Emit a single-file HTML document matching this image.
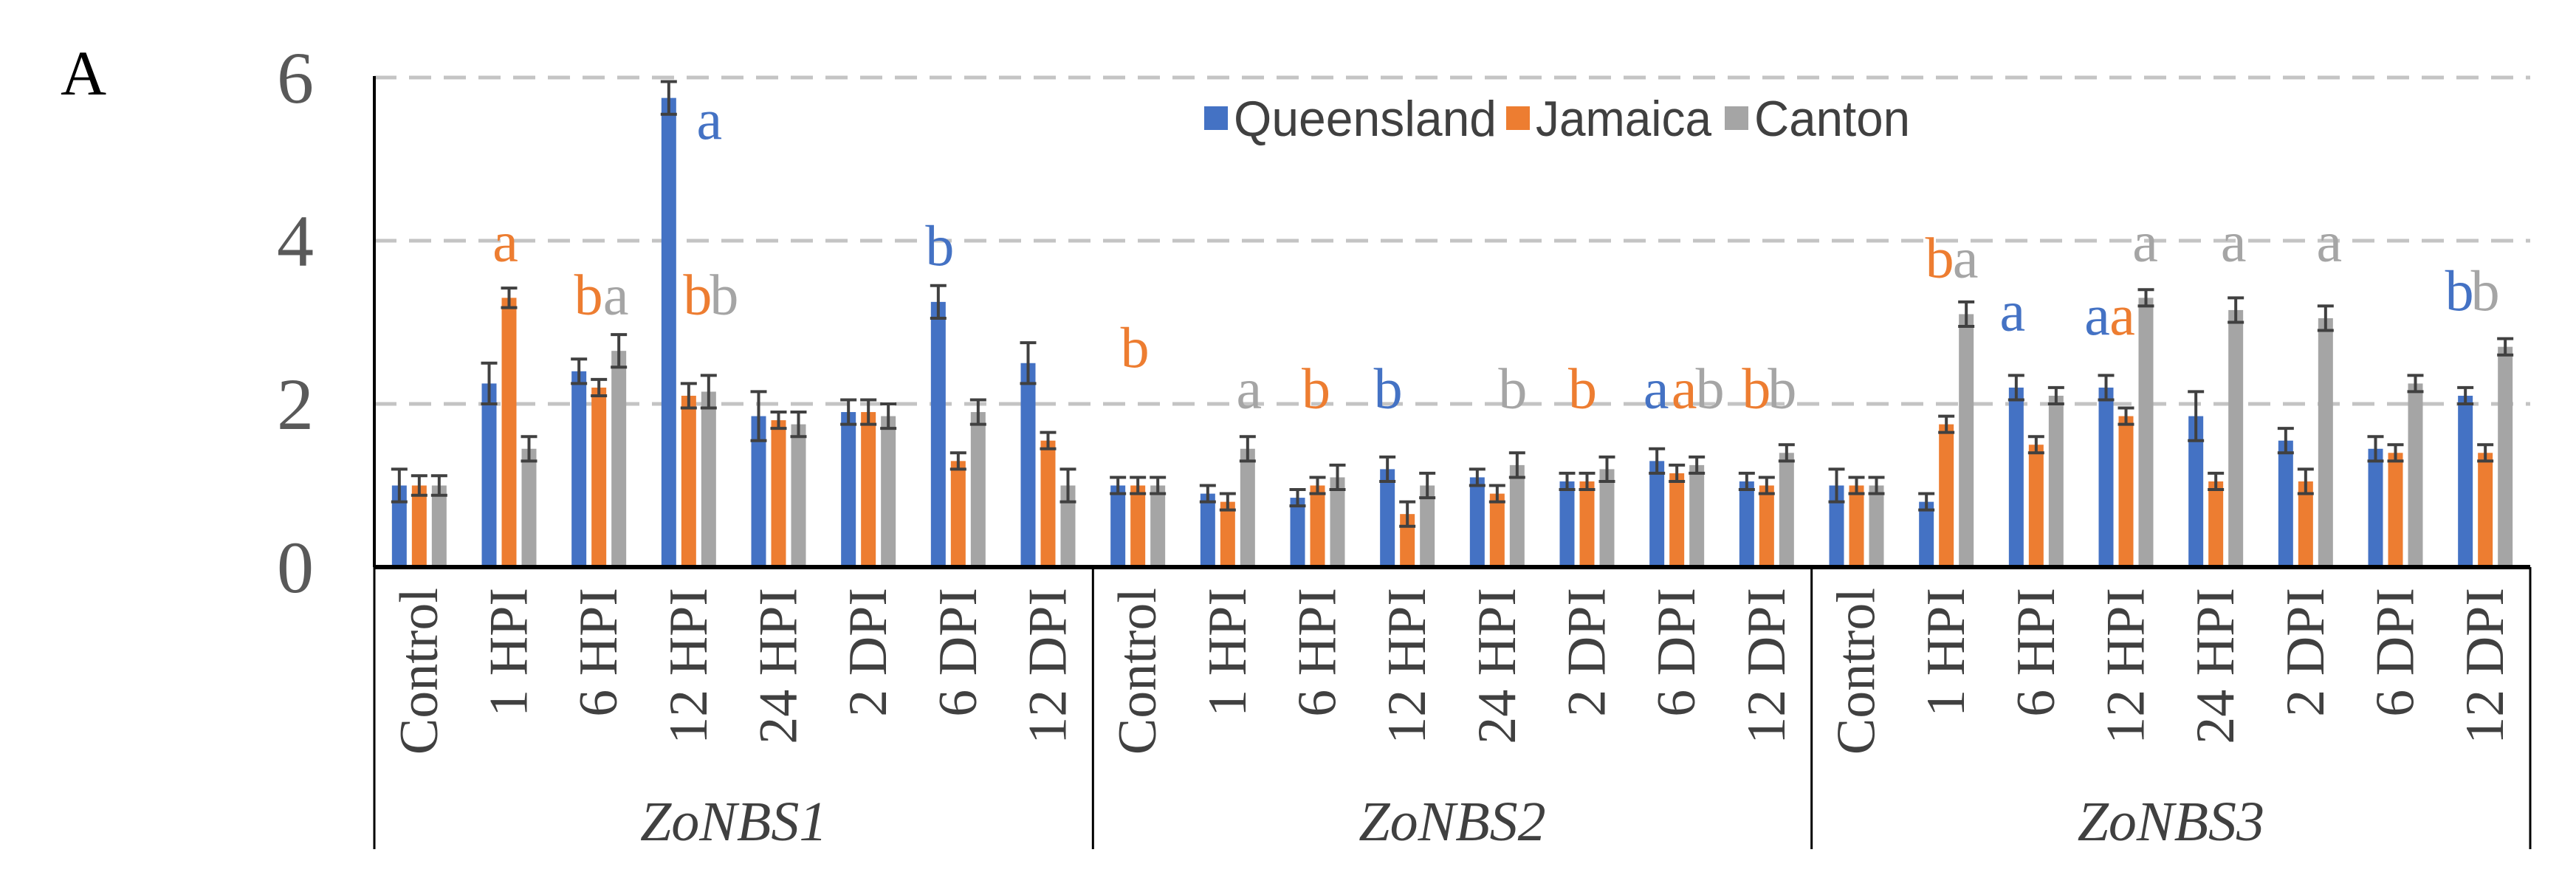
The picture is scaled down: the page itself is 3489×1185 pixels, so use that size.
<!DOCTYPE html>
<html><head><meta charset="utf-8">
<style>
html,body{margin:0;padding:0;background:#fff;}
svg{display:block;}
</style></head>
<body>
<svg id="chart" width="3489" height="1185" viewBox="0 0 3489 1185" xmlns="http://www.w3.org/2000/svg">
<text x="82" y="128" font-family="Liberation Serif, serif" font-size="86" fill="#000">A</text>
<g id="grid"></g>
<g id="bars"></g>
<g id="axes"></g>
<g id="letters"></g>
<g id="legend"></g>
</svg>
<script>
const categories = ["Control","1 HPI","6 HPI","12 HPI","24 HPI","2 DPI","6 DPI","12 DPI","Control","1 HPI","6 HPI","12 HPI","24 HPI","2 DPI","6 DPI","12 DPI","Control","1 HPI","6 HPI","12 HPI","24 HPI","2 DPI","6 DPI","12 DPI"];
const groups = ["ZoNBS1","ZoNBS2","ZoNBS3"];
const seriesNames = ["Queensland","Jamaica","Canton"];
const queensland = [1,2.25,2.4,5.75,1.85,1.9,3.25,2.5, 1,0.9,0.85,1.2,1.1,1.05,1.3,1.05, 1,0.8,2.2,2.2,1.85,1.55,1.45,2.1];
const jamaica    = [1,3.3,2.2,2.1,1.8,1.9,1.3,1.55, 1,0.8,1.0,0.65,0.9,1.05,1.15,1.0, 1,1.75,1.5,1.85,1.05,1.05,1.4,1.4];
const canton     = [1,1.45,2.65,2.15,1.75,1.85,1.9,1.0, 1,1.45,1.1,1.0,1.25,1.2,1.25,1.4, 1,3.1,2.1,3.3,3.15,3.05,2.25,2.7];
const errQ = [0.2,0.25,0.15,0.2,0.3,0.15,0.2,0.25, 0.1,0.1,0.1,0.15,0.1,0.1,0.15,0.1, 0.2,0.1,0.15,0.15,0.3,0.15,0.15,0.1];
const errJ = [0.12,0.12,0.1,0.15,0.1,0.15,0.1,0.1, 0.1,0.1,0.1,0.15,0.1,0.1,0.1,0.1, 0.1,0.1,0.1,0.1,0.1,0.15,0.1,0.1];
const errC = [0.12,0.15,0.2,0.2,0.15,0.15,0.15,0.2, 0.1,0.15,0.15,0.15,0.15,0.15,0.1,0.1, 0.1,0.15,0.1,0.1,0.15,0.15,0.1,0.1];
const yTicks = [0,2,4,6];
// significance letters
const letterCat    = [3,1,2,2,3,3,6,8,9,10,11,12,13,14,14,14,15,15,17,17,18,19,19,19,20,21,23,23];
const letterSeries = [0,1,1,2,1,2,0,1,2,1,0,2,1,0,1,2,1,2,1,2,0,0,1,2,2,2,0,2];
const letterText   = ["a","a","b","a","b","b","b","b","a","b","b","b","b","a","a","b","b","b","b","a","a","a","a","a","a","a","b","b"];
const letterVal    = [5.45,3.95,3.3,3.3,3.3,3.3,3.9,2.65,2.15,2.15,2.15,2.15,2.15,2.15,2.15,2.15,2.15,2.15,3.75,3.75,3.1,3.05,3.05,3.95,3.95,3.95,3.35,3.35];
const letterDx     = [28,-5,-14,23,12,48,-25,-4,29,-2,-26,21,-6,-28,10,45,-14,21,-9,26,-32,-39,-5,26,24,32,-35,0];

const svg = document.getElementById('chart');
const NS = 'http://www.w3.org/2000/svg';
const X0 = 507, X1 = 3427, Y0 = 768, Y6 = 105;
const catW = (X1 - X0) / categories.length;
const yScale = v => Y0 - (Y0 - Y6) * v / 6;
const xCenter = i => X0 + catW * (i + 0.5);
const colors = ["#4472C4","#ED7D31","#A5A5A5"];
const offs = [-27,0,27];
function mk(tag, attrs, parent){const e=document.createElementNS(NS,tag);for(const k in attrs)e.setAttribute(k,attrs[k]);parent.appendChild(e);return e;}

const grid = document.getElementById('grid');
yTicks.forEach(t=>{
  if(t>0){
    const l = mk('line',{x1:X0,x2:X1,y1:yScale(t),y2:yScale(t),stroke:'#C4C4C4','stroke-width':5,'stroke-dasharray':'30 17'},grid);
    
    
  }
  const tx = mk('text',{x:425,y:yScale(t)+34,'text-anchor':'end','font-family':'Liberation Serif, serif','font-size':100,fill:'#595959'},grid);
  tx.textContent = t;
  
  
});

const bars = document.getElementById('bars');
const vals = [queensland,jamaica,canton];
const errs = [errQ,errJ,errC];
categories.forEach((c,i)=>{
  vals.forEach((arr,s)=>{
    const cx = xCenter(i)+offs[s];
    const r = mk('rect',{x:cx-10,y:yScale(arr[i]),width:20,height:Y0-yScale(arr[i]),fill:colors[s]},bars);
    
    
    const e = errs[s][i];
    const g = mk('g',{stroke:'#404040','stroke-width':4},bars);
    
    
    mk('line',{x1:cx,x2:cx,y1:yScale(arr[i]-e),y2:yScale(arr[i]+e)},g);
    mk('line',{x1:cx-11,x2:cx+11,y1:yScale(arr[i]+e),y2:yScale(arr[i]+e)},g);
    mk('line',{x1:cx-11,x2:cx+11,y1:yScale(arr[i]-e),y2:yScale(arr[i]-e)},g);
  });
});

const axes = document.getElementById('axes');
const ya = mk('line',{x1:X0,x2:X0,y1:Y6-2,y2:Y0,stroke:'#000','stroke-width':4},axes);


const xa = mk('line',{x1:X0,x2:X1,y1:Y0,y2:Y0,stroke:'#000','stroke-width':6},axes);


for(let g=0; g<=groups.length; g++){
  const x = X0 + catW*8*g;
  const d = mk('line',{x1:x,x2:x,y1:Y0,y2:1150,stroke:'#000','stroke-width':3},axes);
  
  
}
categories.forEach((c,i)=>{
  const x = xCenter(i)+24, y = 796;
  const t = mk('text',{x:x,y:y,transform:`rotate(-90 ${x} ${y})`,'text-anchor':'end','font-family':'Liberation Serif, serif','font-size':74,fill:'#404040'},axes);
  t.textContent = c;
  
  
});
groups.forEach((gname,g)=>{
  const t = mk('text',{x:X0+catW*(8*g+4),y:1138,'text-anchor':'middle','font-family':'Liberation Serif, serif','font-style':'italic','font-size':76,fill:'#404040'},axes);
  t.textContent = gname;
  
  
});

const letters = document.getElementById('letters');
letterText.forEach((l,k)=>{
  const t = mk('text',{x:xCenter(letterCat[k])+letterDx[k],y:yScale(letterVal[k])+22,'text-anchor':'middle','font-family':'Liberation Serif, serif','font-size':78,fill:colors[letterSeries[k]]},letters);
  t.textContent = l;
  
  
});

const legend = document.getElementById('legend');
const legX = [1631,2040,2336];
const legW = [356,238,211];
seriesNames.forEach((n,s)=>{
  const r = mk('rect',{x:legX[s],y:144,width:32,height:32,fill:colors[s]},legend);
  
  
  const t = mk('text',{x:legX[s]+40,y:184,textLength:legW[s],lengthAdjust:'spacingAndGlyphs','font-family':'Liberation Sans, sans-serif','font-size':68,fill:'#404040'},legend);
  t.textContent = n;
  
  
});
</script>
</body></html>
